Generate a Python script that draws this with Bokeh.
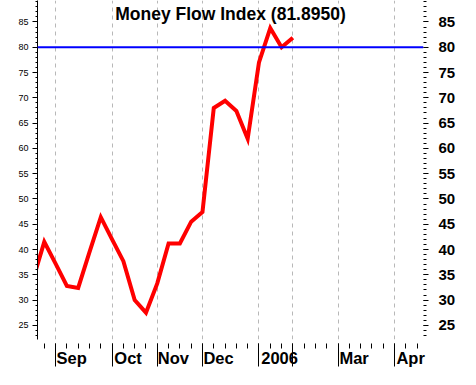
from bokeh.plotting import figure
from bokeh.models import (Range1d, LinearAxis, FixedTicker, SingleIntervalTicker,
                          Span, Label)
from bokeh.embed import file_html
from bokeh.resources import INLINE

# ---- data (weekly index, 0 = first week of Sep) ----
weeks = list(range(-2, 22))
mfi = [34.0, 41.5, 37.2, 32.8, 32.4, 39.5, 46.4, 42.0, 37.7, 30.0, 27.5, 33.3,
       41.2, 41.2, 45.5, 47.4, 68.0, 69.4, 67.4, 61.9, 77.0, 83.8, 80.0, 81.9]
month_pos = [0, 5, 9, 13, 18, 21, 25, 30]
month_labels = ["Sep", "Oct", "Nov", "Dec", "2006", "", "Mar", "Apr"]
week_ticks = list(range(-1, 33))
level = 80
title_text = "Money Flow Index (81.8950)"

FONT = "Liberation Sans"
LABEL_PX = 16.5

# Arial/Liberation Sans Bold advance widths (1/1000 em), used to start each
# month label just right of its tick (labels are centred by the axis)
ADV = {"A": 722, "D": 722, "M": 833, "N": 722, "O": 778, "S": 667, "a": 556,
       "c": 556, "e": 556, "o": 611, "p": 611, "r": 389, "t": 333, "v": 556,
       "0": 556, "2": 556, "6": 556}
NBSP = "\u00a0"


def right_of_tick(lab, gap=1.6):
    if not lab:
        return lab
    w = sum(ADV.get(c, 556) for c in lab) / 1000 * LABEL_PX
    n = round((w + 2 * gap) / (0.278 * LABEL_PX))
    return NBSP * n + lab


x0, x1 = -1.6, 32.56
y0, y1 = 22.2, 89.25

p = figure(width=460, height=369, output_backend="svg", toolbar_location=None,
           x_range=Range1d(x0, x1), y_range=Range1d(y0, y1),
           min_border_left=37, min_border_right=37, min_border_top=0,
           min_border_bottom=27)
p.outline_line_color = None
p.background_fill_color = "white"
p.border_fill_color = "white"

# bottom axis: long month ticks, weekly minor ticks
xa = p.xaxis[0]
xa.ticker = FixedTicker(ticks=month_pos, minor_ticks=week_ticks)
xa.axis_line_color = None
xa.major_tick_in = -4
xa.major_tick_out = 27
xa.minor_tick_in = -4
xa.minor_tick_out = 9
xa.major_tick_line_color = "black"
xa.minor_tick_line_color = "black"
xa.major_label_overrides = {pos: right_of_tick(lab)
                            for pos, lab in zip(month_pos, month_labels)}
xa.major_label_text_font = FONT
xa.major_label_text_font_style = "bold"
xa.major_label_text_font_size = f"{LABEL_PX}px"
xa.major_label_text_color = "black"
xa.major_label_standoff = -18

p.xgrid.grid_line_color = "#b8b8b8"
p.xgrid.grid_line_dash = "4 4"
p.ygrid.visible = False

# left axis
ya = p.yaxis[0]
ya.ticker = SingleIntervalTicker(interval=5, num_minor_ticks=5)
ya.axis_line_color = "black"
ya.major_tick_in = 0
ya.major_tick_out = 5
ya.minor_tick_in = 0
ya.minor_tick_out = 2
ya.major_label_text_font = FONT
ya.major_label_text_font_size = "9px"
ya.major_label_text_color = "black"
ya.major_label_standoff = 4

# right axis
ra = LinearAxis(ticker=SingleIntervalTicker(interval=5, num_minor_ticks=5))
ra.axis_line_color = None
ra.major_tick_in = 0
ra.major_tick_out = 5
ra.minor_tick_in = 0
ra.minor_tick_out = 3
ra.major_label_text_font = FONT
ra.major_label_text_font_style = "bold"
ra.major_label_text_font_size = "15px"
ra.major_label_text_color = "black"
ra.major_label_standoff = 10
p.add_layout(ra, "right")

p.add_layout(Span(location=level, dimension="width", line_color="#0000ff", line_width=2))

p.line(weeks, mfi, line_color="#ff0000", line_width=4, line_join="miter")

p.add_layout(Label(x=(x0 + x1) / 2, y=y1, text=title_text, text_align="center",
                   text_baseline="top", y_offset=-3, text_font=FONT,
                   text_font_style="bold", text_font_size="17.5px",
                   text_color="black"))

open("out.html", "w").write(file_html(p, INLINE))
